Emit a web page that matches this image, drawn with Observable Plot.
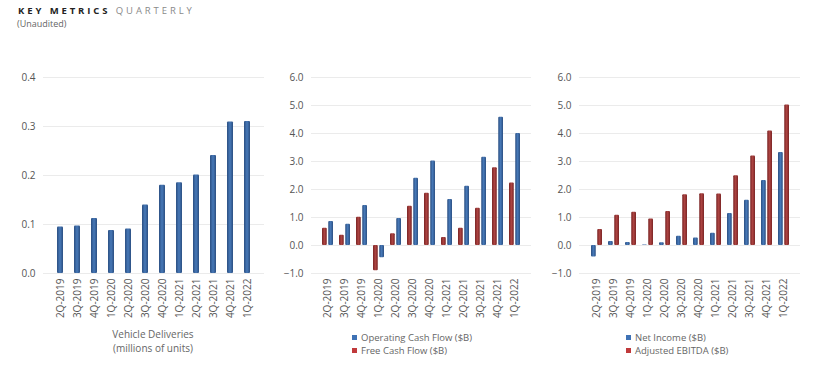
<!DOCTYPE html>
<html>
<head>
<meta charset="utf-8">
<script src="https://cdn.jsdelivr.net/npm/d3@7"></script>
<script src="https://cdn.jsdelivr.net/npm/@observablehq/plot@0.6"></script>
<style>
  html, body { margin: 0; padding: 0; background: #fff; width: 820px; height: 386px; overflow: hidden; }
  body { position: relative; font-family: "Open Sans", sans-serif; }
  .t { position: absolute; line-height: 14px; height: 14px; white-space: nowrap; }
  #title { left: 18px; top: 3.5px; font-size: 9.5px; letter-spacing: 2.9px; }
  #title b { color: #222; font-weight: 700; }
  #title span { color: #8a8a8a; font-weight: 400; }
  #sub { left: 17px; top: 16.5px; font-size: 9px; color: #666; }
  .chart { position: absolute; top: 60px; }
  .cap { font-size: 10px; color: #666; width: 110px; text-align: center; left: 98px; }
  .leg { font-size: 9.5px; color: #666; }
  .sw { display: inline-block; width: 5px; height: 5px; margin-right: 4px; vertical-align: 1px; }
</style>
</head>
<body>
<div id="title" class="t"><b>KEY METRICS</b> <span>QUARTERLY</span></div>
<div id="sub" class="t">(Unaudited)</div>
<div id="c1" class="chart" style="left:0px"></div>
<div id="c2" class="chart" style="left:270px"></div>
<div id="c3" class="chart" style="left:545px"></div>
<div class="t cap" style="top:326.5px">Vehicle Deliveries</div>
<div class="t cap" style="top:340.5px">(millions of units)</div>
<div class="t leg" style="left:352px; top:330.5px"><span class="sw" style="background:#3f72b5"></span>Operating Cash Flow ($B)</div>
<div class="t leg" style="left:352px; top:343.5px"><span class="sw" style="background:#c0393b"></span>Free Cash Flow ($B)</div>
<div class="t leg" style="left:626px; top:330.5px"><span class="sw" style="background:#3f72b5"></span>Net Income ($B)</div>
<div class="t leg" style="left:626px; top:343.5px"><span class="sw" style="background:#c0393b"></span>Adjusted EBITDA ($B)</div>
<script>
const quarters = ["2Q-2019","3Q-2019","4Q-2019","1Q-2020","2Q-2020","3Q-2020","4Q-2020","1Q-2021","2Q-2021","3Q-2021","4Q-2021","1Q-2022"];
const deliveries = [0.095, 0.097, 0.112, 0.088, 0.091, 0.140, 0.180, 0.185, 0.201, 0.241, 0.309, 0.310];
const operatingCashFlow = [0.86, 0.76, 1.43, -0.44, 0.96, 2.40, 3.02, 1.64, 2.12, 3.15, 4.58, 4.00];
const freeCashFlow = [0.62, 0.37, 1.01, -0.90, 0.42, 1.40, 1.87, 0.29, 0.62, 1.33, 2.78, 2.23];
const netIncome = [-0.41, 0.14, 0.11, 0.02, 0.10, 0.33, 0.27, 0.44, 1.14, 1.62, 2.32, 3.32];
const adjustedEbitda = [0.57, 1.08, 1.19, 0.95, 1.21, 1.81, 1.85, 1.84, 2.49, 3.20, 4.09, 5.02];
const deliveryTicks = [0, 0.1, 0.2, 0.3, 0.4];
const financialTicks = [-1, 0, 1, 2, 3, 4, 5, 6];

const rows = quarters.map((q, i) => ({
  q, deliveries: deliveries[i], ocf: operatingCashFlow[i], fcf: freeCashFlow[i],
  ni: netIncome[i], ebitda: adjustedEbitda[i]
}));

function addGradients(svg, prefix) {
  const defs = d3.select(svg).insert("defs", ":first-child");
  const mk = (id, edge, mid) => {
    const g = defs.append("linearGradient").attr("id", prefix + id)
      .attr("x1", 0).attr("x2", 1).attr("y1", 0).attr("y2", 0);
    g.append("stop").attr("offset", "0%").attr("stop-color", edge);
    g.append("stop").attr("offset", "50%").attr("stop-color", mid);
    g.append("stop").attr("offset", "100%").attr("stop-color", edge);
  };
  mk("blue", "#2b4f82", "#4779b8");
  mk("red", "#7a2424", "#ad4442");
}

const common = (width, marginLeft, domain, ticks, padding) => ({
  width, height: 278, marginLeft, marginRight: 11, marginTop: 17, marginBottom: 65,
  style: { fontFamily: "Open Sans, sans-serif", fontSize: "10px", color: "#555", background: "transparent", overflow: "visible" },
  x: { domain: quarters, padding, tickRotate: -90, tickSize: 0, tickPadding: 5, label: null },
  y: { domain, ticks, tickFormat: d3.format(".1f"), tickSize: 0, tickPadding: 8, label: null }
});

// Chart 1
{
  const opts = common(275, 43, [0, 0.4], deliveryTicks, 0.67);
  const svg = Plot.plot({
    ...opts,
    marks: [
      Plot.ruleY(deliveryTicks, { stroke: "#ebebeb" }),
      Plot.barY(rows, { x: "q", y: "deliveries", fill: "url(#c1blue)", rx: 1 })
    ]
  });
  addGradients(svg, "c1");
  document.getElementById("c1").appendChild(svg);
}
// Chart 2
{
  const opts = common(272, 41, [-1, 6], financialTicks, 0.375);
  const svg = Plot.plot({
    ...opts,
    marks: [
      Plot.ruleY(financialTicks, { stroke: "#ebebeb" }),
      Plot.barY(rows, { x: "q", y: "fcf", fill: "url(#c2red)", insetRight: 6.25, rx: 1 }),
      Plot.barY(rows, { x: "q", y: "ocf", fill: "url(#c2blue)", insetLeft: 6.25, rx: 1 })
    ]
  });
  addGradients(svg, "c2");
  document.getElementById("c2").appendChild(svg);
}
// Chart 3
{
  const opts = common(266, 34, [-1, 6], financialTicks, 0.375);
  const svg = Plot.plot({
    ...opts,
    marks: [
      Plot.ruleY(financialTicks, { stroke: "#ebebeb" }),
      Plot.barY(rows, { x: "q", y: "ni", fill: "url(#c3blue)", insetRight: 6.25, rx: 1 }),
      Plot.barY(rows, { x: "q", y: "ebitda", fill: "url(#c3red)", insetLeft: 6.25, rx: 1 })
    ]
  });
  addGradients(svg, "c3");
  document.getElementById("c3").appendChild(svg);
}
</script>
</body>
</html>
